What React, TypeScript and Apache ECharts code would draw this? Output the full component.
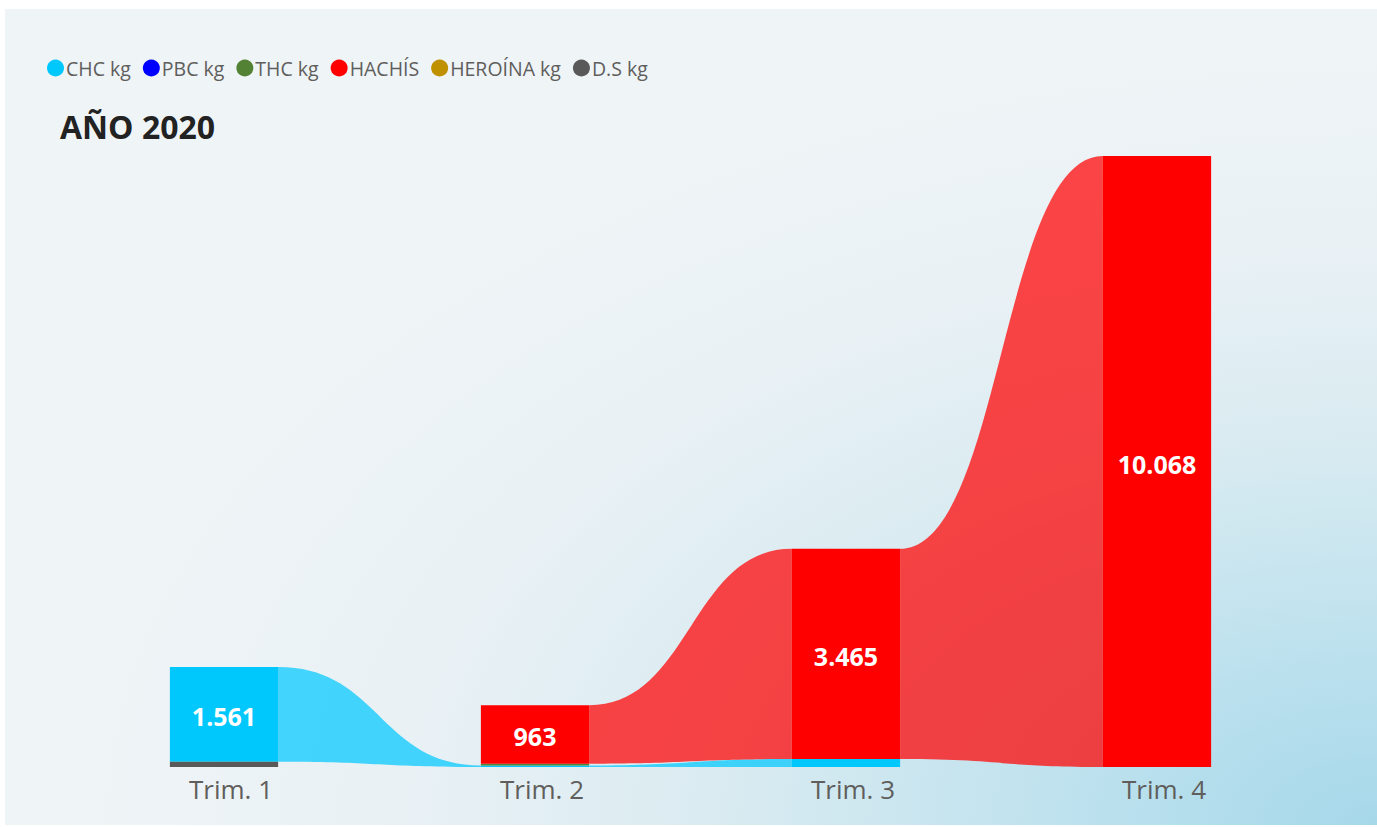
import React, { useEffect, useRef } from "react";
import * as echarts from "echarts";

const categories = ["Trim. 1", "Trim. 2", "Trim. 3", "Trim. 4"];
const seriesNames = ["CHC kg", "PBC kg", "THC kg", "HACHÍS", "HEROÍNA kg", "D.S kg"];
const seriesColors = ["#00C8FD", "#0000FF", "#548235", "#FF0000", "#BF9000", "#595959"];
const chcValues = [1561, 25, 130, 0];
const pbcValues = [0, 0, 0, 0];
const thcValues = [0, 30, 0, 0];
const hachisValues = [0, 963, 3465, 10068];
const heroinaValues = [0, 0, 0, 0];
const dsValues = [85, 0, 0, 0];
const titleText = "AÑO 2020";
const yMax = 10068;

const allValues = [chcValues, pbcValues, thcValues, hachisValues, heroinaValues, dsValues];

function fmt(v: number): string {
  return String(Math.round(v)).replace(/\B(?=(\d{3})+(?!\d))/g, ".");
}

// stack bottoms per column: smallest at bottom, largest on top (ribbon ranking)
function computeBottoms(): number[][] {
  const n = categories.length;
  const bottoms = allValues.map(() => new Array(n).fill(0));
  for (let j = 0; j < n; j++) {
    const order = allValues.map((arr, s) => s).sort((a, b) => allValues[a][j] - allValues[b][j]);
    let acc = 0;
    for (const s of order) {
      bottoms[s][j] = acc;
      acc += allValues[s][j];
    }
  }
  return bottoms;
}

export default function App() {
  const ref = useRef<HTMLDivElement>(null);
  useEffect(() => {
    if (!ref.current) return;
    const chart = echarts.init(ref.current, null, { renderer: "svg" });
    const bottoms = computeBottoms();
    const n = categories.length;
    const series = allValues.map((vals, s) => {
      const color = seriesColors[s];
      const data = vals.map((v, j) => [
        j,
        v,
        bottoms[s][j],
        j < n - 1 ? vals[j + 1] : 0,
        j < n - 1 ? bottoms[s][j + 1] : 0,
      ]);
      return {
        type: "custom",
        name: seriesNames[s],
        itemStyle: { color },
        data,
        renderItem: (params: any, api: any) => {
          const i = api.value(0) as number;
          const v = api.value(1) as number;
          const b = api.value(2) as number;
          const nv = api.value(3) as number;
          const nb = api.value(4) as number;
          const band = api.size([1, 0])[0];
          const bw = band * 0.348;
          const p0 = api.coord([i, b]);
          const p1 = api.coord([i, b + v]);
          const children: any[] = [];
          if (v > 0 && nv > 0 && i < n - 1) {
            const q0 = api.coord([i + 1, nb]);
            const q1 = api.coord([i + 1, nb + nv]);
            const x0 = p0[0] + bw / 2;
            const x1 = q0[0] - bw / 2;
            const xm = (x0 + x1) / 2;
            const d = `M${x0},${p1[1]} C${xm},${p1[1]} ${xm},${q1[1]} ${x1},${q1[1]} L${x1},${q0[1]} C${xm},${q0[1]} ${xm},${p0[1]} ${x0},${p0[1]} Z`;
            children.push({
              type: "path",
              shape: { pathData: d },
              style: { fill: color, opacity: 0.72 },
            });
          }
          if (v > 0) {
            const h = p0[1] - p1[1];
            children.push({
              type: "rect",
              shape: { x: p0[0] - bw / 2, y: p1[1], width: bw, height: h },
              style: { fill: color },
            });
            if (h > 30) {
              children.push({
                type: "text",
                style: {
                  text: fmt(v),
                  x: p0[0],
                  y: (p0[1] + p1[1]) / 2 + 2,
                  align: "center",
                  verticalAlign: "middle",
                  fill: "#FFFFFF",
                  fontSize: 25,
                  fontWeight: "bold",
                  fontFamily: "'Open Sans', sans-serif",
                },
              });
            }
          }
          return { type: "group", children };
        },
      };
    });

    chart.setOption({
      animation: false,
      backgroundColor: "transparent",
      title: {
        text: titleText,
        left: 55,
        top: 105,
        textStyle: {
          fontSize: 32,
          fontWeight: "bold",
          color: "#222222",
          fontFamily: "'Open Sans', sans-serif",
        },
      },
      legend: {
        left: 42,
        top: 53,
        icon: "circle",
        itemWidth: 17,
        itemHeight: 17,
        itemGap: 12,
        selectedMode: false,
        textStyle: {
          fontSize: 19.5,
          color: "#605E5C",
          fontFamily: "'Open Sans', sans-serif",
          padding: [0, 0, 0, -3],
        },
        data: seriesNames,
      },
      grid: { left: 68.5, right: 64.5, top: 156, bottom: 60 },
      xAxis: {
        type: "category",
        data: categories,
        boundaryGap: true,
        axisLine: { show: false },
        axisTick: { show: false },
        splitLine: { show: false },
        axisLabel: {
          fontSize: 26,
          color: "#605E5C",
          fontFamily: "'Open Sans', sans-serif",
          margin: 9,
          padding: [0, 0, 0, 14],
        },
      },
      yAxis: {
        type: "value",
        min: 0,
        max: yMax,
        show: false,
        splitLine: { show: false },
      },
      series,
    });
    return () => chart.dispose();
  }, []);

  return (
    <div style={{ position: "fixed", left: 0, top: 0, width: 1377, height: 827, background: "#ffffff" }}>
      <div
        style={{
          position: "absolute",
          left: 5,
          top: 9,
          right: 0,
          bottom: 2,
          background:
            "radial-gradient(ellipse 95% 95% at 100% 100%, #a6d8ea 0%, #bfe2ee 25%, #d9ebf1 50%, #e9f1f5 75%, #eff4f7 100%)",
        }}
      />
      <div ref={ref} style={{ position: "absolute", left: 0, top: 0, width: 1377, height: 827 }} />
    </div>
  );
}
